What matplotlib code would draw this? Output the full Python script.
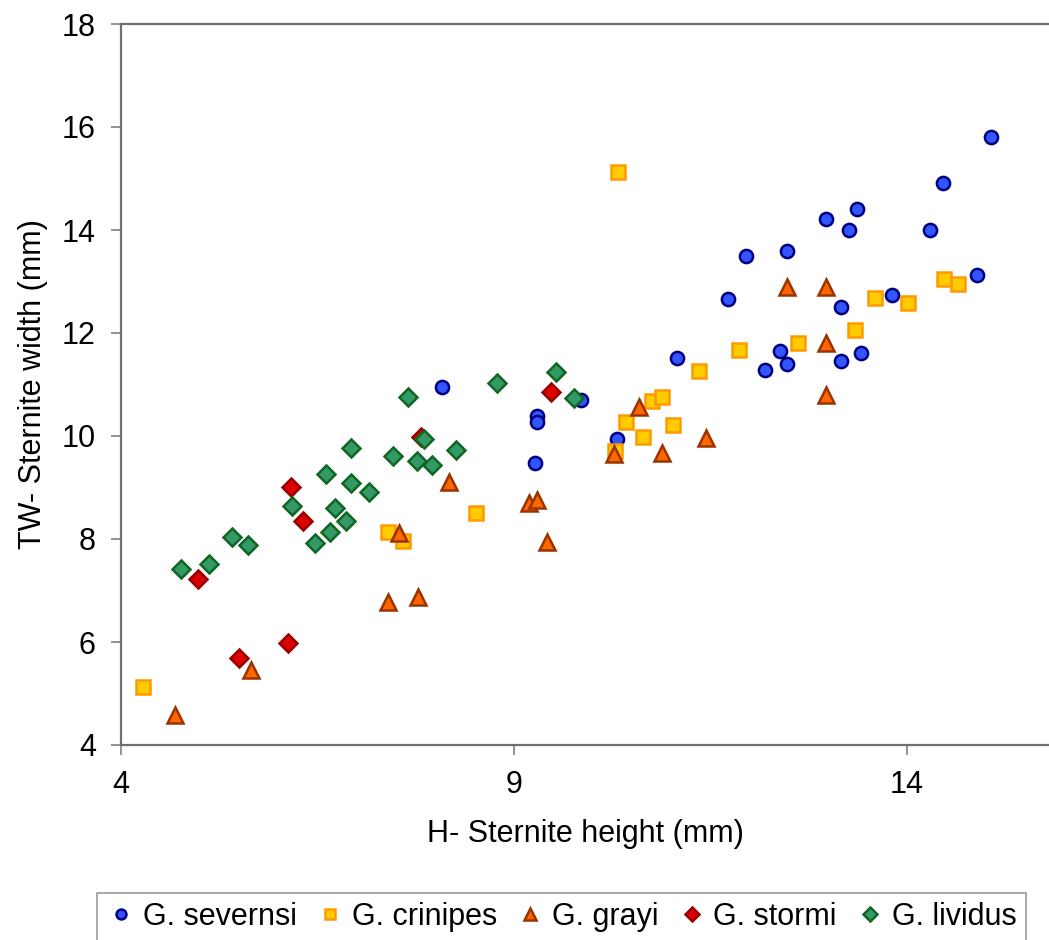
import matplotlib.pyplot as plt

plt.rcParams['font.family'] = ['Liberation Sans', 'DejaVu Sans']

# G. severnsi
sev_x = [8.09, 9.29, 9.29, 9.86, 9.27, 10.31, 11.07, 11.72, 11.96, 12.19, 12.39, 12.48,
         12.48, 12.97, 13.26, 13.37, 13.16, 13.16, 13.42, 13.81, 14.29, 14.46, 14.90, 15.07]
sev_y = [10.95, 10.39, 10.27, 10.70, 9.48, 9.94, 11.51, 12.66, 13.50, 11.28, 11.65, 11.40,
         13.59, 14.21, 14.00, 14.41, 12.50, 11.46, 11.61, 12.74, 14.00, 14.91, 13.13, 15.81]

# G. crinipes
cri_x = [4.28, 7.40, 7.59, 8.52, 10.29, 10.43, 10.64, 10.76, 10.89, 11.03, 11.35, 11.86,
         12.62, 13.34, 13.59, 14.01, 14.48, 14.65, 10.32]
cri_y = [5.13, 8.14, 7.96, 8.50, 9.71, 10.27, 9.98, 10.68, 10.76, 10.21, 11.26, 11.67,
         11.81, 12.06, 12.68, 12.58, 13.05, 12.95, 15.13]

# G. grayi
gra_x = [4.69, 5.66, 7.40, 7.78, 7.54, 8.18, 9.19, 9.30, 9.42, 10.27, 10.59, 10.88,
         11.44, 12.48, 12.97, 12.97, 12.97]
gra_y = [4.58, 5.46, 6.78, 6.87, 8.12, 9.11, 8.70, 8.76, 7.94, 9.65, 10.56, 9.67,
         9.96, 12.89, 12.89, 11.81, 10.80]

# G. stormi
sto_x = [4.98, 5.50, 6.12, 6.16, 6.31, 7.82, 9.47]
sto_y = [7.22, 5.69, 5.98, 9.01, 8.35, 9.98, 10.85]

# G. lividus
liv_x = [4.76, 5.12, 5.41, 5.62, 6.17, 6.47, 6.66, 6.72, 6.86, 6.61, 6.93, 7.15,
         6.93, 7.65, 7.46, 7.77, 7.96, 7.86, 8.26, 8.78, 9.53, 9.76]
liv_y = [7.42, 7.51, 8.04, 7.88, 8.64, 7.92, 8.14, 8.60, 8.35, 9.26, 9.09, 8.91,
         9.77, 10.76, 9.61, 9.51, 9.44, 9.94, 9.73, 11.03, 11.24, 10.74]

fig = plt.figure(figsize=(10.49, 9.40), dpi=100)
ax = fig.add_axes([121 / 1049, 1 - 745 / 940, 1 - 121 / 1049, (745 - 24) / 940])

ax.plot(sev_x, sev_y, 'o', ms=9.5, mfc='#3355ff', mec='#000080', mew=1.8, label='G. severnsi')
ax.plot(cri_x, cri_y, 's', ms=10, mfc='#ffcc00', mec='#ff9900', mew=1.8, label='G. crinipes')
ax.plot(gra_x, gra_y, '^', ms=11.5, mfc='#ff6600', mec='#993300', mew=1.8, label='G. grayi')
ax.plot(sto_x, sto_y, 'D', ms=9.5, mfc='#dd0000', mec='#990000', mew=1.8, label='G. stormi')
ax.plot(liv_x, liv_y, 'D', ms=9.5, mfc='#339966', mec='#116622', mew=1.8, label='G. lividus')

ax.set_xlim(4, 15.81)
ax.set_ylim(4, 18)
ax.set_xticks([4, 9, 14])
ax.set_yticks([4, 6, 8, 10, 12, 14, 16, 18])
ax.tick_params(direction='out', length=7, width=1.2, color='#808080',
               labelsize=22, pad=11)

for s in ['left', 'bottom', 'top']:
    ax.spines[s].set_color('#707070')
    ax.spines[s].set_linewidth(1.6)
ax.spines['right'].set_visible(False)

ax.set_xlabel('H- Sternite height (mm)', fontsize=22, labelpad=14)
ax.set_ylabel('TW- Sternite width (mm)', fontsize=22, labelpad=10)

leg = fig.legend(loc='upper center', bbox_to_anchor=(0.535, 1 - 893 / 940), ncol=5,
                 fontsize=22, frameon=True, fancybox=False, edgecolor='#808080',
                 handletextpad=0.2, columnspacing=0.6, handlelength=1.0,
                 borderpad=0.3, borderaxespad=0, markerscale=0.75)
leg.get_frame().set_linewidth(1.2)

fig.savefig('out.png', dpi=100)
